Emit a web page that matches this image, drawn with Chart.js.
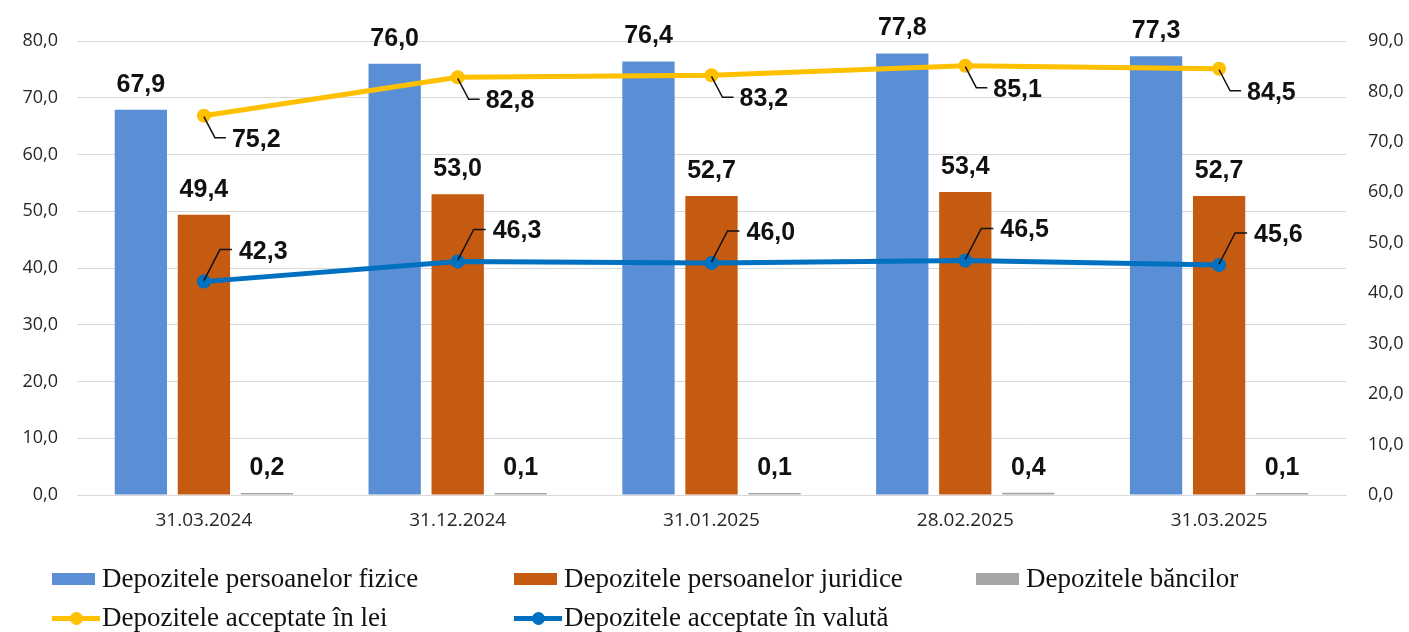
<!DOCTYPE html>
<html>
<head>
<meta charset="utf-8">
<script src="https://cdn.jsdelivr.net/npm/chart.js@4.4.1/dist/chart.umd.min.js"></script>
<style>
  html, body { margin: 0; padding: 0; background: #fff; }
  #wrap { position: relative; width: 1409px; height: 632px; }
  canvas { position: absolute; left: 0; top: 0; }
  .lg { position: absolute; font-family: "Liberation Serif", serif; font-size: 27px; color: #111; white-space: nowrap; line-height: 30px; }
  .lg .sym { position: absolute; }
</style>
</head>
<body>
<div id="wrap">
  <canvas id="c" width="1409" height="632"></canvas>
</div>
<script>
const categories = ["31.03.2024", "31.12.2024", "31.01.2025", "28.02.2025", "31.03.2025"];
const persoaneFizice = [67.9, 76.0, 76.4, 77.8, 77.3];
const persoaneJuridice = [49.4, 53.0, 52.7, 53.4, 52.7];
const banci = [0.2, 0.1, 0.1, 0.4, 0.1];
const acceptateLei = [75.2, 82.8, 83.2, 85.1, 84.5];
const acceptateValuta = [42.3, 46.3, 46.0, 46.5, 45.6];
const leftTicks = [0, 10, 20, 30, 40, 50, 60, 70, 80];
const rightTicks = [0, 10, 20, 30, 40, 50, 60, 70, 80, 90];

const seriesNames = [
  "Depozitele persoanelor fizice",
  "Depozitele persoanelor juridice",
  "Depozitele băncilor",
  "Depozitele acceptate în lei",
  "Depozitele acceptate în valută"
];
const colors = ["#5B8FD5", "#C55A11", "#A5A5A5", "#FFC000", "#0070C0"];

const fmt = v => v.toFixed(1).replace('.', ',');
const labelFont = 'bold 25px "Liberation Sans", sans-serif';

const labelPlugin = {
  id: 'valueLabels',
  afterDatasetsDraw(chart) {
    const ctx = chart.ctx;
    ctx.save();
    ctx.font = labelFont;
    ctx.fillStyle = '#111';
    [0, 1, 2].forEach(di => {
      const meta = chart.getDatasetMeta(di);
      meta.data.forEach((el, i) => {
        const v = chart.data.datasets[di].data[i];
        ctx.textAlign = 'center';
        ctx.textBaseline = 'alphabetic';
        ctx.fillText(fmt(v), el.x, el.y - 18);
      });
    });
    ctx.strokeStyle = '#111';
    ctx.lineWidth = 1.5;
    const lmeta = chart.getDatasetMeta(3);
    lmeta.data.forEach((el, i) => {
      const v = chart.data.datasets[3].data[i];
      ctx.beginPath();
      ctx.moveTo(el.x, el.y + 1);
      ctx.lineTo(el.x + 11, el.y + 22);
      ctx.lineTo(el.x + 22, el.y + 22);
      ctx.stroke();
      ctx.textAlign = 'left';
      ctx.textBaseline = 'middle';
      ctx.fillText(fmt(v), el.x + 28, el.y + 24);
    });
    const vmeta = chart.getDatasetMeta(4);
    vmeta.data.forEach((el, i) => {
      const v = chart.data.datasets[4].data[i];
      ctx.beginPath();
      ctx.moveTo(el.x, el.y - 1);
      ctx.lineTo(el.x + 16, el.y - 32);
      ctx.lineTo(el.x + 28, el.y - 32);
      ctx.stroke();
      ctx.textAlign = 'left';
      ctx.textBaseline = 'middle';
      ctx.fillText(fmt(v), el.x + 35, el.y - 30);
    });
    ctx.restore();
  }
};

const tickFont = { family: '"Open Sans", sans-serif', size: 18 };

new Chart(document.getElementById('c'), {
  data: {
    labels: categories,
    datasets: [
      { type: 'bar', label: seriesNames[0], data: persoaneFizice, backgroundColor: colors[0], yAxisID: 'y', order: 2, categoryPercentage: 0.745, barPercentage: 0.83 },
      { type: 'bar', label: seriesNames[1], data: persoaneJuridice, backgroundColor: colors[1], yAxisID: 'y', order: 2, categoryPercentage: 0.745, barPercentage: 0.83 },
      { type: 'bar', label: seriesNames[2], data: banci, backgroundColor: colors[2], yAxisID: 'y', order: 2, categoryPercentage: 0.745, barPercentage: 0.83, minBarLength: 2 },
      { type: 'line', label: seriesNames[3], data: acceptateLei, borderColor: colors[3], backgroundColor: colors[3], borderWidth: 5, pointRadius: 7, pointHoverRadius: 7, pointBorderWidth: 0, yAxisID: 'y1', order: 1, tension: 0 },
      { type: 'line', label: seriesNames[4], data: acceptateValuta, borderColor: colors[4], backgroundColor: colors[4], borderWidth: 5, pointRadius: 7, pointHoverRadius: 7, pointBorderWidth: 0, yAxisID: 'y1', order: 1, tension: 0 }
    ]
  },
  options: {
    responsive: false,
    animation: false,
    layout: { padding: { top: 41, left: 0, right: 0, bottom: 0 } },
    plugins: { legend: { display: false }, tooltip: { enabled: false }, title: { display: false } },
    scales: {
      x: {
        grid: { display: false, drawTicks: false },
        border: { display: true, color: '#D9D9D9', width: 1 },
        ticks: { font: { family: '"Open Sans", sans-serif', size: 19 }, color: '#262626', padding: 14 },
        afterFit(s) { s.height = 137; }
      },
      y: {
        position: 'left',
        min: 0, max: 80,
        afterBuildTicks(s) { s.ticks = leftTicks.map(v => ({ value: v })); },
        grid: { color: '#D9D9D9', lineWidth: 1, drawTicks: false },
        border: { display: false },
        ticks: { font: tickFont, color: '#262626', padding: 19, callback: v => fmt(v) },
        afterFit(s) { s.width = 77; }
      },
      y1: {
        position: 'right',
        min: 0, max: 90,
        afterBuildTicks(s) { s.ticks = rightTicks.map(v => ({ value: v })); },
        grid: { display: false, drawTicks: false },
        border: { display: false },
        ticks: { font: tickFont, color: '#262626', padding: 22, callback: v => fmt(v) },
        afterFit(s) { s.width = 63; }
      }
    }
  },
  plugins: [labelPlugin]
});

const wrap = document.getElementById('wrap');
const legendPos = [
  { left: 52, top: 563 }, { left: 514, top: 563 }, { left: 976, top: 563 },
  { left: 52, top: 602 }, { left: 514, top: 602 }
];
seriesNames.forEach((name, i) => {
  const d = document.createElement('div');
  d.className = 'lg';
  d.style.left = legendPos[i].left + 'px';
  d.style.top = legendPos[i].top + 'px';
  d.style.paddingLeft = '50px';
  if (i < 3) {
    d.innerHTML = '<span class="sym" style="left:0;top:10px;width:43px;height:12px;background:' + colors[i] + '"></span>' + name;
  } else {
    d.innerHTML = '<span class="sym" style="left:0;top:14px;width:48px;height:5px;background:' + colors[i] + '"></span>' +
      '<span class="sym" style="left:18px;top:10px;width:13px;height:13px;border-radius:50%;background:' + colors[i] + '"></span>' + name;
  }
  wrap.appendChild(d);
});
</script>
</body>
</html>
